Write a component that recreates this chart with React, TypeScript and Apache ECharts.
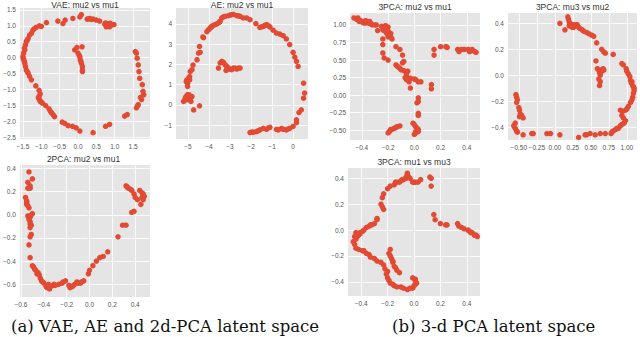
import React, { useEffect, useRef } from "react";
import * as echarts from "echarts";

// ---------- data ----------
const vaePoints: [number, number][] = [
  [-0.86, 1.1], [-0.55, 1.15], [-0.41, 1.07], [-0.35, 1.18], [-0.14, 1.23], [0.05, 1.28], [0.09, 1.35],
  [0.25, 1.21], [0.32, 1.23], [0.41, 1.21], [0.5, 1.18], [0.59, 1.15], [0.73, 1.05], [0.77, 1.02],
  [0.82, 1.07], [0.86, 0.97], [0.91, 1.02], [0.77, 0.97], [0.98, 1.04], [0.75, 1.09], [0.84, 1.05],
  [0.29, 1.22], [0.36, 1.2], [0.8, 1.0], [0.88, 1.08],
  [-1.05, 1.0], [-1.14, 0.95], [-1.23, 0.86], [-1.27, 0.76], [-1.32, 0.71], [-1.36, 0.6], [-1.41, 0.5],
  [-1.43, 0.4], [-1.45, 0.24], [-1.48, 0.14], [-1.5, 0.03], [-1.48, -0.07], [-1.45, -0.18], [-1.43, -0.28],
  [-1.41, -0.39], [-1.36, -0.49], [-1.32, -0.59], [-1.27, -0.7], [-1.15, -0.89], [-1.06, -1.03],
  [-1.03, -1.14], [-1.06, -1.22], [-1.05, -1.32], [-1.03, -1.38], [-0.97, -1.43], [-0.88, -1.51],
  [-0.79, -1.61], [-0.75, -1.69], [-0.68, -1.79], [-0.64, -1.86], [-0.43, -2.03], [-0.36, -2.07],
  [-0.27, -2.14], [-0.15, -2.16], [-0.05, -2.21], [0.05, -2.31], [0.41, -2.36], [0.75, -2.16],
  [0.86, -2.1], [1.27, -1.84], [1.34, -1.79], [1.59, -1.58], [1.64, -1.48], [1.73, -1.32], [1.79, -1.17],
  [1.77, -1.06], [1.75, -0.85], [1.68, -0.65], [1.66, -0.44], [1.64, -0.23], [1.61, -0.02], [1.59, 0.14],
  [1.56, 0.19], [-1.0, 0.98], [-1.2, 0.9], [-1.38, 0.55], [-1.46, 0.3], [-1.49, -0.02], [-1.46, -0.12],
  [-1.38, -0.44], [-1.08, -1.26], [-1.0, -1.4], [-0.72, -1.74], [1.7, -1.25], [1.62, -1.52],
  [-0.09, 0.24], [-0.03, 0.32], [0.11, 0.34], [0.0, 0.14], [0.05, 0.03], [0.06, -0.07], [0.09, -0.18],
  [0.12, -0.28], [0.12, -0.39], [0.12, -0.44], [0.03, 0.08], [0.08, -0.12],
];

const aePoints: [number, number][] = [
  [-5.21, 0.17], [-5.13, 0.33], [-5.05, 0.41], [-5.02, 0.5], [-4.97, 0.41], [-4.89, 0.33], [-4.81, 0.41],
  [-4.92, 0.25], [-4.86, 0.17], [-5.08, 0.25], [-4.73, -0.25], [-4.45, -0.05], [-5.02, 1.07], [-5.08, 1.16],
  [-5.05, 1.24], [-4.97, 1.32], [-4.92, 1.4], [-4.89, 1.65], [-4.81, 1.74], [-4.76, 1.97], [-4.92, 1.24],
  [-5.02, 0.91], [-4.57, 2.23], [-4.5, 2.56], [-4.42, 2.6], [-4.45, 2.89], [-4.26, 3.32], [-4.29, 3.36],
  [-4.1, 3.62], [-4.02, 3.72], [-3.94, 3.8], [-3.86, 3.88], [-3.79, 3.93], [-3.71, 3.97], [-3.63, 4.0],
  [-3.55, 4.05], [-3.47, 4.13], [-3.39, 4.3], [-3.31, 4.35], [-3.23, 4.38], [-3.08, 4.41], [-2.92, 4.46],
  [-2.84, 4.48], [-2.68, 4.41], [-2.52, 4.38], [-2.37, 4.3], [-2.21, 4.3], [-2.05, 4.21], [-1.77, 4.02],
  [-1.58, 3.83], [-1.42, 3.88], [-1.34, 3.93], [-1.26, 3.97], [-1.18, 3.92], [-1.1, 3.85], [-0.95, 3.69],
  [-0.79, 3.55], [-0.63, 3.5], [-0.47, 3.42], [-0.32, 3.26], [-0.16, 2.98], [0.0, 2.6], [0.08, 2.36],
  [0.16, 2.15], [0.24, 1.9], [0.5, 1.07], [0.55, 0.58], [0.5, 0.33], [0.39, -0.25], [0.28, -0.38],
  [0.16, -0.74], [0.16, -0.88], [0.0, -1.07], [-0.16, -1.16], [-0.32, -1.24], [-0.47, -1.21], [-0.55, -1.16],
  [-0.79, -1.21], [-1.1, -1.11], [-1.18, -1.14], [-1.26, -1.21], [-1.42, -1.16], [-1.58, -1.24],
  [-1.74, -1.32], [-1.89, -1.36], [-2.05, -1.37], [-1.95, -1.34], [-1.65, -1.28], [-0.7, -1.24],
  [-0.25, -1.2], [-3.0, 4.44], [-2.6, 4.4], [-3.5, 4.1], [-3.9, 3.85], [-1.5, 3.86], [-5.1, 0.4], [-4.95, 0.5],
  [-3.55, 1.82], [-3.47, 2.07], [-3.39, 2.15], [-3.31, 2.1], [-3.23, 1.98], [-3.15, 1.9], [-3.08, 1.82],
  [-3.0, 1.77], [-2.84, 1.82], [-2.76, 1.82], [-2.68, 1.77], [-2.6, 1.82], [-2.52, 1.82], [-3.15, 1.74],
  [-2.92, 1.74], [-3.19, 1.7],
];

const pca3Mu2Mu1: [number, number][] = [
  [-0.46, 1.1], [-0.44, 1.08], [-0.43, 1.1], [-0.42, 1.07], [-0.41, 1.06], [-0.39, 1.05], [-0.38, 1.03],
  [-0.37, 1.03], [-0.36, 1.03], [-0.34, 1.02], [-0.33, 1.02], [-0.32, 1.0], [-0.3, 1.0], [-0.29, 1.0],
  [-0.42, 1.05], [-0.39, 1.03], [-0.37, 1.06], [-0.34, 1.05], [-0.28, 0.92], [-0.25, 0.98], [-0.24, 0.93],
  [-0.23, 0.92], [-0.22, 0.99], [-0.2, 0.97], [-0.2, 0.91], [-0.21, 0.88], [-0.19, 0.86], [-0.18, 0.83],
  [-0.17, 0.8], [-0.2, 0.83], [-0.18, 0.88], [-0.24, 0.8], [-0.24, 0.72], [-0.24, 0.6], [-0.23, 0.53],
  [-0.2, 0.5], [-0.14, 0.69], [-0.11, 0.65], [-0.09, 0.57], [-0.14, 0.43], [-0.13, 0.41], [-0.11, 0.38],
  [-0.1, 0.36], [-0.08, 0.35], [-0.06, 0.31], [-0.05, 0.34], [-0.09, 0.46], [-0.08, 0.48], [-0.06, 0.27],
  [-0.05, 0.22], [-0.04, 0.19], [-0.03, 0.24], [0.0, 0.23], [0.01, 0.22], [0.03, 0.19], [0.05, 0.19],
  [-0.03, 0.1], [-0.06, 0.22], [-0.12, 0.4], [-0.07, 0.25],
  [0.15, 0.65], [0.15, 0.57], [0.2, 0.69], [0.24, 0.69], [0.25, 0.68], [0.33, 0.65], [0.34, 0.62],
  [0.36, 0.65], [0.38, 0.65], [0.41, 0.65], [0.42, 0.62], [0.43, 0.63], [0.44, 0.65], [0.46, 0.62],
  [0.47, 0.61], [0.13, 0.15], [0.13, 0.09],
  [0.03, -0.04], [0.03, -0.09], [0.02, -0.11], [0.03, -0.26], [0.03, -0.29], [-0.01, -0.4], [0.0, -0.42],
  [0.01, -0.45], [0.02, -0.47], [0.03, -0.52], [0.01, -0.54], [0.0, -0.56], [0.01, -0.52], [0.03, -0.49],
  [-0.19, -0.52], [-0.18, -0.49], [-0.16, -0.48], [-0.15, -0.47], [-0.14, -0.46], [-0.13, -0.45],
  [-0.11, -0.44], [-0.2, -0.54], [-0.18, -0.5],
];

const pca3Mu3Mu2: [number, number][] = [
  [0.07, 0.4], [0.14, 0.35], [0.18, 0.45], [0.19, 0.43], [0.2, 0.41], [0.21, 0.4], [0.22, 0.39], [0.24, 0.37],
  [0.25, 0.39], [0.2, 0.38], [0.26, 0.37], [0.28, 0.39], [0.31, 0.39], [0.33, 0.37], [0.35, 0.36],
  [0.38, 0.35], [0.4, 0.34], [0.44, 0.33], [0.47, 0.32], [0.51, 0.31], [0.54, 0.3], [0.58, 0.25],
  [0.65, 0.2], [0.68, 0.18], [0.7, 0.17], [0.81, 0.16], [0.93, 0.09], [0.95, 0.08],
  [0.57, 0.11], [0.59, 0.05], [0.61, 0.04], [0.62, 0.02], [0.63, 0.0], [0.64, 0.04], [0.65, 0.03],
  [0.67, 0.05], [0.68, 0.04], [0.61, -0.03], [0.63, -0.05], [0.62, -0.08],
  [0.99, 0.05], [1.0, 0.03], [1.02, 0.01], [1.04, -0.01], [1.05, -0.04], [1.07, -0.05], [1.08, -0.08],
  [1.09, -0.09], [1.1, -0.12], [1.09, -0.14], [1.08, -0.17], [1.07, -0.19], [1.05, -0.21], [1.02, -0.24],
  [1.0, -0.26], [0.98, -0.27], [0.94, -0.28], [0.91, -0.27], [0.93, -0.31], [0.95, -0.33], [0.98, -0.35],
  [0.96, -0.37], [0.93, -0.38], [0.91, -0.39], [0.88, -0.41], [0.86, -0.41], [0.84, -0.42], [0.81, -0.43],
  [0.79, -0.44], [0.78, -0.45], [1.06, -0.06], [1.1, -0.1],
  [0.7, -0.45], [0.63, -0.45], [0.56, -0.46], [0.49, -0.45], [0.44, -0.46], [0.42, -0.46], [0.33, -0.48],
  [0.07, -0.46], [-0.06, -0.45], [-0.11, -0.45], [-0.3, -0.45], [-0.32, -0.45], [-0.44, -0.46],
  [-0.52, -0.44], [-0.53, -0.43], [-0.55, -0.41], [-0.57, -0.39], [-0.55, -0.37],
  [-0.54, -0.15], [-0.53, -0.17], [-0.52, -0.19], [-0.53, -0.21], [-0.5, -0.25], [-0.49, -0.27],
  [-0.48, -0.3], [-0.46, -0.31], [-0.44, -0.33], [-0.49, -0.32],
];

const pca2Mu2Mu1: [number, number][] = [
  [-0.53, 0.37], [-0.5, 0.31], [-0.54, 0.28], [-0.52, 0.25], [-0.53, 0.23], [-0.52, 0.23], [-0.54, 0.23],
  [-0.56, 0.15], [-0.55, 0.12], [-0.55, 0.11], [-0.55, 0.09], [-0.54, 0.08], [-0.53, 0.06], [-0.54, -0.01],
  [-0.52, -0.01], [-0.52, -0.02], [-0.51, 0.0], [-0.5, 0.01], [-0.53, -0.04], [-0.52, -0.06], [-0.52, -0.08],
  [-0.51, -0.09], [-0.52, -0.11], [-0.51, -0.17], [-0.52, -0.19], [-0.53, -0.26],
  [0.32, 0.25], [0.33, 0.24], [0.34, 0.23], [0.36, 0.22], [0.37, 0.21], [0.39, 0.18], [0.4, 0.15],
  [0.42, 0.13], [0.44, 0.21], [0.46, 0.19], [0.47, 0.18], [0.48, 0.16], [0.46, 0.15], [0.47, 0.13],
  [0.45, 0.09], [0.39, 0.03], [0.37, 0.02], [0.32, -0.09], [0.29, -0.09], [0.25, -0.19],
  [-0.52, -0.37], [-0.5, -0.44], [-0.49, -0.45], [-0.48, -0.47], [-0.47, -0.48], [-0.45, -0.5],
  [-0.44, -0.52], [-0.42, -0.57], [-0.41, -0.58], [-0.4, -0.59], [-0.38, -0.62], [-0.37, -0.63],
  [-0.35, -0.64], [-0.34, -0.62], [-0.32, -0.61], [-0.31, -0.6], [-0.3, -0.61], [-0.27, -0.6],
  [-0.24, -0.59], [-0.23, -0.58], [-0.21, -0.57], [-0.18, -0.61], [-0.17, -0.63], [-0.15, -0.62],
  [-0.14, -0.61], [-0.13, -0.6], [-0.11, -0.58], [-0.1, -0.59], [-0.08, -0.59], [-0.07, -0.58],
  [-0.05, -0.57], [-0.01, -0.51], [0.0, -0.48], [0.03, -0.44], [0.06, -0.4], [0.09, -0.37], [0.12, -0.36],
  [0.16, -0.32], [-0.43, -0.55], [-0.36, -0.6], [-0.46, -0.51],
];

const pca3Mu1Mu3: [number, number][] = [
  [-0.2, 0.32], [-0.23, 0.28], [-0.24, 0.25], [-0.25, 0.2], [-0.24, 0.18], [-0.23, 0.16], [-0.28, 0.09],
  [-0.28, 0.08], [-0.18, 0.34], [-0.15, 0.35], [-0.14, 0.37], [-0.13, 0.37], [-0.11, 0.37], [-0.1, 0.38],
  [-0.09, 0.39], [-0.08, 0.39], [-0.06, 0.4], [-0.06, 0.41], [-0.05, 0.43], [-0.05, 0.44], [-0.04, 0.41],
  [-0.03, 0.4], [-0.01, 0.37], [0.0, 0.37], [0.01, 0.37], [0.03, 0.37], [0.05, 0.39], [0.12, 0.41],
  [0.13, 0.4], [0.13, 0.34],
  [0.15, 0.12], [0.16, 0.08], [0.2, 0.05], [0.24, 0.04], [0.25, 0.04], [0.33, 0.05], [0.34, 0.03],
  [0.36, 0.02], [0.38, 0.01], [0.41, 0.0], [0.42, -0.01], [0.43, -0.02], [0.44, -0.02], [0.46, -0.04],
  [0.47, -0.04], [0.48, -0.05], [0.46, -0.04],
  [-0.3, 0.05], [-0.32, 0.04], [-0.33, 0.04], [-0.34, 0.03], [-0.36, 0.02], [-0.38, 0.0], [-0.39, -0.01],
  [-0.41, -0.02], [-0.41, -0.03], [-0.42, -0.04], [-0.43, -0.05], [-0.44, -0.07],
  [-0.44, -0.02], [-0.45, -0.05], [-0.46, -0.09], [-0.45, -0.11], [-0.44, -0.14], [-0.42, -0.15],
  [-0.39, -0.16], [-0.38, -0.16], [-0.36, -0.18], [-0.34, -0.19], [-0.33, -0.21], [-0.3, -0.22],
  [-0.28, -0.24], [-0.25, -0.25], [-0.23, -0.27], [-0.22, -0.3], [-0.2, -0.32], [-0.21, -0.34],
  [-0.2, -0.37], [-0.19, -0.39], [-0.18, -0.41], [-0.16, -0.42], [-0.15, -0.43], [-0.13, -0.44],
  [-0.1, -0.44], [-0.08, -0.45], [-0.05, -0.46], [-0.03, -0.45], [-0.01, -0.45], [0.0, -0.43],
  [0.01, -0.42], [0.02, -0.41], [0.01, -0.39], [0.01, -0.38], [-0.01, -0.37],
  [-0.18, -0.15], [-0.19, -0.18], [-0.18, -0.2], [-0.17, -0.22], [-0.16, -0.24], [-0.16, -0.25],
  [-0.15, -0.28], [-0.14, -0.29], [-0.13, -0.31], [-0.11, -0.33],
];

// ---------- tick labels ----------
const vaeXTicks = [-1.5, -1.0, -0.5, 0, 0.5, 1.0, 1.5];
const vaeYTicks = [-2.5, -2.0, -1.5, -1.0, -0.5, 0, 0.5, 1.0, 1.5];
const aeXTicks = [-5, -4, -3, -2, -1, 0];
const aeYTicks = [-1, 0, 1, 2, 3, 4];
const pca3aXTicks = [-0.4, -0.2, 0, 0.2, 0.4];
const pca3aYTicks = [-0.5, -0.25, 0, 0.25, 0.5, 0.75, 1.0];
const pca3bXTicks = [-0.5, -0.25, 0, 0.25, 0.5, 0.75, 1.0];
const pca3bYTicks = [-0.4, -0.2, 0, 0.2, 0.4];
const pca2XTicks = [-0.6, -0.4, -0.2, 0, 0.2, 0.4];
const pca2YTicks = [-0.6, -0.4, -0.2, 0, 0.2, 0.4];
const pca3cXTicks = [-0.4, -0.2, 0, 0.2, 0.4];
const pca3cYTicks = [-0.4, -0.2, 0, 0.2, 0.4];

const titles = [
  "VAE: mu2 vs mu1",
  "AE: mu2 vs mu1",
  "3PCA: mu2 vs mu1",
  "3PCA: mu3 vs mu2",
  "2PCA: mu2 vs mu1",
  "3PCA: mu1 vs mu3",
];
const captions = ["(a) VAE, AE and 2d-PCA latent space", "(b) 3-d PCA latent space"];

// ---------- layout ----------
const panels = [
  { data: vaePoints, xt: vaeXTicks, yt: vaeYTicks, xd: 1, yd: 1, box: [20, 8, 130, 131], xr: [-1.58, 1.96], yr: [-2.56, 1.56], tt: 0 },
  { data: aePoints, xt: aeXTicks, yt: aeYTicks, xd: 0, yd: 0, box: [176, 8, 132, 131], xr: [-5.57, 0.71], yr: [-1.69, 4.79], tt: 0 },
  { data: pca3Mu2Mu1, xt: pca3aXTicks, yt: pca3aYTicks, xd: 1, yd: 2, box: [350, 13, 130, 127], xr: [-0.49, 0.5], yr: [-0.64, 1.17], tt: 2.5 },
  { data: pca3Mu3Mu2, xt: pca3bXTicks, yt: pca3bYTicks, xd: 2, yd: 1, box: [508, 13, 129, 127], xr: [-0.65, 1.14], yr: [-0.5, 0.48], tt: 2.5 },
  { data: pca2Mu2Mu1, xt: pca2XTicks, yt: pca2YTicks, xd: 1, yd: 1, box: [17, 165, 133, 132], xr: [-0.61, 0.53], yr: [-0.71, 0.43], tt: 154.5 },
  { data: pca3Mu1Mu3, xt: pca3cXTicks, yt: pca3cYTicks, xd: 1, yd: 1, box: [348, 168, 132, 128], xr: [-0.5, 0.5], yr: [-0.51, 0.48], tt: 157.5 },
];

const fmt = (d: number) => (v: number) => {
  const s = (Math.abs(v) < 1e-9 ? 0 : v).toFixed(d);
  return s.replace("-", "\u2212");
};

export default function App() {
  const ref = useRef<HTMLDivElement>(null);
  useEffect(() => {
    if (!ref.current) return;
    const chart = echarts.init(ref.current, undefined, { renderer: "svg" });
    const grid: any[] = [];
    const xAxis: any[] = [];
    const yAxis: any[] = [];
    const series: any[] = [];
    const title: any[] = [];
    const labelStyle = { fontSize: 6.5, color: "#555", margin: 4, fontFamily: "Liberation Sans", hideOverlap: false };
    panels.forEach((p, i) => {
      const [l, t, w, h] = p.box;
      grid.push({ left: l, top: t, width: w, height: h, show: true, backgroundColor: "#E5E5E5", borderWidth: 0 });
      const axisCommon = {
        type: "value",
        gridIndex: i,
        axisLine: { show: false },
        splitLine: { show: false },
      };
      const tick = { show: true, length: 2, lineStyle: { color: "#555", width: 0.6 } };
      xAxis.push({
        ...axisCommon,
        min: p.xr[0],
        max: p.xr[1],
        axisTick: { ...tick, customValues: p.xt },
        axisLabel: { ...labelStyle, customValues: p.xt, formatter: fmt(p.xd) },
      });
      yAxis.push({
        ...axisCommon,
        min: p.yr[0],
        max: p.yr[1],
        axisTick: { ...tick, customValues: p.yt },
        axisLabel: { ...labelStyle, customValues: p.yt, formatter: fmt(p.yd) },
      });
      series.push({
        type: "scatter",
        xAxisIndex: i,
        yAxisIndex: i,
        data: p.data,
        symbolSize: 5.5,
        z: 3,
        itemStyle: { color: "#E24A33", opacity: 1 },
        markLine: {
          silent: true,
          z: 1,
          symbol: ["none", "none"],
          label: { show: false },
          emphasis: { disabled: true },
          lineStyle: { color: "#FFFFFF", width: 0.8, type: "solid" },
          data: [...p.xt.map((v) => ({ xAxis: v })), ...p.yt.map((v) => ({ yAxis: v }))],
        },
      });
      title.push({
        text: titles[i],
        left: l + w / 2,
        top: p.tt,
        textAlign: "center",
        padding: 0,
        textStyle: { fontSize: 8.5, fontWeight: "normal", color: "#333", fontFamily: "Liberation Sans" },
      });
    });
    title.push({
      text: captions[0],
      left: 11,
      top: 318,
      padding: 0,
      textStyle: { fontSize: 16.5, fontWeight: "normal", color: "#111", fontFamily: "DejaVu Serif" },
    });
    title.push({
      text: captions[1],
      left: 392,
      top: 318,
      padding: 0,
      textStyle: { fontSize: 16.5, fontWeight: "normal", color: "#111", fontFamily: "DejaVu Serif" },
    });
    chart.setOption({
      animation: false,
      backgroundColor: "#FFFFFF",
      title,
      grid,
      xAxis,
      yAxis,
      series,
    });
    return () => chart.dispose();
  }, []);
  return <div ref={ref} style={{ position: "absolute", left: 0, top: 0, width: 640, height: 337 }} />;
}
